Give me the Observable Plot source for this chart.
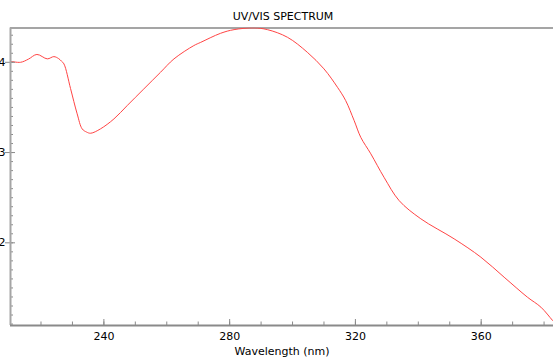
<!DOCTYPE html>
<html><head><meta charset="utf-8">
<script src="https://cdn.jsdelivr.net/npm/d3@7"></script>
<script src="https://cdn.jsdelivr.net/npm/@observablehq/plot@0.6"></script>
<style>
html,body{margin:0;padding:0;background:#fff;overflow:hidden;}
#title{box-sizing:border-box;height:26px;width:553px;padding-top:11px;padding-left:13px;font:11px/11px "DejaVu Sans";text-align:center;color:#000;white-space:nowrap;}
#chart svg{display:block;}
</style></head><body>
<div id="title">UV/VIS SPECTRUM</div>
<div id="chart"></div>
<script>
const titleText = "UV/VIS SPECTRUM";
const xLabel = "Wavelength (nm)";
const xDomain = [210.3, 383];
const yDomain = [1.084, 4.38];
const wavelength = [210.3, 213.5, 216.0, 218.7, 222.0, 224.1, 225.6, 226.5, 227.3, 229.4, 231.5, 233.1, 234.5, 235.8, 238.9, 243.2, 247.4, 252.7, 258.0, 262.3, 268.6, 270.8, 277.1, 281.4, 287.7, 292.0, 298.4, 304.7, 310.0, 314.3, 316.9, 319.6, 321.7, 324.9, 329.1, 333.9, 340.8, 351.4, 359.9, 367.3, 374.7, 379.0, 382.7, 384.0];
const absorbance = [4.011, 4.000, 4.035, 4.087, 4.038, 4.063, 4.041, 4.013, 3.982, 3.709, 3.429, 3.262, 3.227, 3.214, 3.262, 3.373, 3.520, 3.705, 3.889, 4.038, 4.185, 4.221, 4.321, 4.362, 4.381, 4.362, 4.277, 4.111, 3.927, 3.723, 3.576, 3.354, 3.169, 2.986, 2.726, 2.468, 2.266, 2.044, 1.841, 1.619, 1.398, 1.287, 1.140, 1.09];
const xMajorTicks = [240, 280, 320, 360];
const xMinorTicks = [220, 230, 240, 250, 260, 270, 280, 290, 300, 310, 320, 330, 340, 350, 360, 370, 380];
const yMajorTicks = [2, 3, 4];
const yTickLabels = ["2", "3", "4"];
const yMinorTicks = [1.1, 1.2, 1.3, 1.4, 1.5, 1.6, 1.7, 1.8, 1.9, 2.0, 2.1, 2.2, 2.3, 2.4, 2.5, 2.6, 2.7, 2.8, 2.9, 3.0, 3.1, 3.2, 3.3, 3.4, 3.5, 3.6, 3.7, 3.8, 3.9, 4.0, 4.1, 4.2, 4.3];

document.getElementById("title").textContent = titleText;
const data = wavelength.map((w, i) => ({w, a: absorbance[i]}));
const axisGray = "#8a8a8a";
const frameGray = "#a5a5a5";

const chart = Plot.plot({
  width: 553, height: 332,
  marginLeft: 10, marginRight: 0, marginTop: 1.5, marginBottom: 33,
  style: {fontFamily: "DejaVu Sans", fontSize: "11px", color: "#000", background: "#fff", overflow: "visible"},
  x: {domain: xDomain},
  y: {domain: yDomain},
  marks: [
    Plot.ruleY([yDomain[1]], {stroke: frameGray, strokeWidth: 2}),
    Plot.line(data, {x: "w", y: "a", stroke: "#ff4444", strokeWidth: 1, curve: "catmull-rom", clip: true}),
    Plot.axisY(yMinorTicks, {tickSize: -3, tickFormat: () => "", stroke: axisGray, label: null}),
    Plot.axisY(yMajorTicks, {tickSize: -5, tickFormat: () => "", stroke: axisGray, label: null}),
    Plot.axisY(yMajorTicks, {tickSize: 5, tickPadding: 0, stroke: axisGray, fill: "#000", label: null, tickFormat: (d, i) => yTickLabels[i]}),
    Plot.axisX(xMinorTicks, {tickSize: -3.5, tickFormat: () => "", stroke: axisGray, label: null}),
    Plot.axisX(xMajorTicks, {tickSize: -6, tickFormat: () => "", stroke: axisGray, label: null}),
    Plot.axisX(xMajorTicks, {tickSize: 0, tickPadding: 7, fill: "#000", label: xLabel, labelAnchor: "center", labelOffset: 29, labelArrow: "none"}),
    Plot.ruleX([xDomain[0]], {stroke: frameGray, strokeWidth: 2}),
    Plot.ruleY([yDomain[0]], {stroke: axisGray, strokeWidth: 2})
  ]
});
document.getElementById("chart").appendChild(chart);
</script>
</body></html>
